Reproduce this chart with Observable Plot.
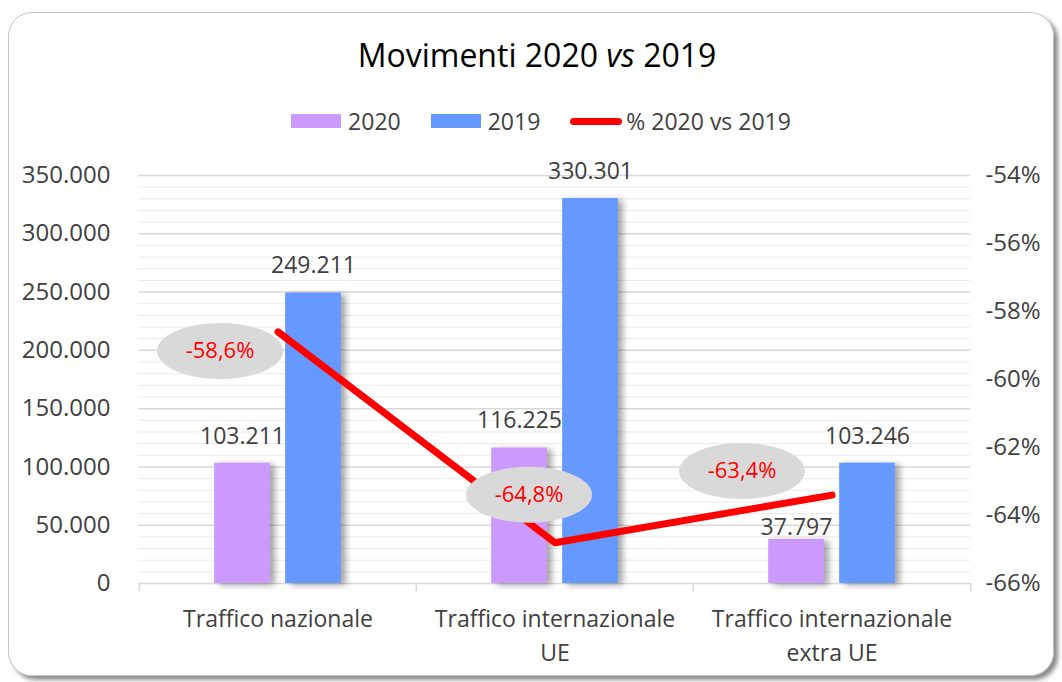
<!DOCTYPE html>
<html><head><meta charset="utf-8">
<script src="https://cdn.jsdelivr.net/npm/d3@7"></script>
<script src="https://cdn.jsdelivr.net/npm/@observablehq/plot@0.6"></script>
<style>
html,body{margin:0;padding:0;background:#fff;}
body{width:1062px;height:682px;position:relative;overflow:hidden;font-family:"Open Sans", sans-serif;color:#404040;}
#frame{position:absolute;left:8px;top:12px;width:1044px;height:662px;border:1.5px solid #c4c4c4;border-radius:24px;box-shadow:4px 4px 4px rgba(0,0,0,.45);}
#title{position:absolute;top:31px;left:0;width:1074px;text-align:center;font-size:32px;color:#000;line-height:48px;}
#legend{position:absolute;top:104px;left:0;width:1082px;display:flex;justify-content:center;align-items:center;font-size:23px;color:#404040;line-height:34px;}
.sw{display:inline-block;width:50px;height:14px;margin-right:7px;}
.item{display:flex;align-items:center;margin:0 15px;}
.ln{display:inline-block;width:52px;height:7px;border-radius:4px;background:#ff0000;margin-right:4px;}
#chart{position:absolute;left:0;top:150px;}
</style>
</head><body>
<div id="frame"></div>
<div id="title">Movimenti 2020 <i>vs</i> 2019</div>
<div id="legend"></div>
<div id="chart"></div>
<script>
const categories = ["Traffico nazionale", "Traffico internazionale\nUE", "Traffico internazionale\nextra UE"];
const v2020 = [103211, 116225, 37797];
const v2019 = [249211, 330301, 103246];
const pct = [-58.6, -64.8, -63.4];
const leftTicks = [0, 50000, 100000, 150000, 200000, 250000, 300000, 350000];
const rightTicks = [-66, -64, -62, -60, -58, -56, -54];
const seriesNames = ["2020", "2019", "% 2020 vs 2019"];
const colors = {c2020: "#cc99ff", c2019: "#6699ff", line: "#ff0000"};

const loc = d3.formatLocale({decimal: ",", thousands: ".", grouping: [3], currency: ["", "€"], minus: "-"});
const fmtInt = loc.format(",d");
const fmtPct1 = v => loc.format(".1f")(v) + "%";

// legend
const lg = document.getElementById("legend");
lg.innerHTML =
  `<span class="item"><span class="sw" style="background:${colors.c2020}"></span>${seriesNames[0]}</span>` +
  `<span class="item"><span class="sw" style="background:${colors.c2019}"></span>${seriesNames[1]}</span>` +
  `<span class="item"><span class="ln"></span>${seriesNames[2]}</span>`;

const W = 1062, H = 532;
const mL = 138, mR = 92, mT = 25, mB = 99;
const pMin = rightTicks[0], pMax = rightTicks[rightTicks.length - 1];
const yMax = leftTicks[leftTicks.length - 1];
const toY = p => (p - pMin) / (pMax - pMin) * yMax;
const fromY = v => pMin + v / yMax * (pMax - pMin);
const rows = categories.map((c, i) => ({cat: c, v2020: v2020[i], v2019: v2019[i], pct: pct[i], py: toY(pct[i])}));
const bw = (W - mL - mR) / categories.length;
const barW = 56, gap = 15;
const off = gap / 2 + barW / 2;

const ellipse = {
  draw(ctx) {
    const rx = 63, ry = 28, k = 0.5523;
    ctx.moveTo(rx, 0);
    ctx.bezierCurveTo(rx, ry * k, rx * k, ry, 0, ry);
    ctx.bezierCurveTo(-rx * k, ry, -rx, ry * k, -rx, 0);
    ctx.bezierCurveTo(-rx, -ry * k, -rx * k, -ry, 0, -ry);
    ctx.bezierCurveTo(rx * k, -ry, rx, -ry * k, rx, 0);
    ctx.closePath();
  }
};
const labelOffsets = [[-58, 19], [-26, -48], [-90, -24]];

const minor = d3.range(0, yMax + 1, 10000).filter(v => v % 50000 !== 0);
const major = leftTicks.filter(v => v > 0);

const chart = Plot.plot({
  width: W, height: H,
  marginLeft: mL, marginRight: mR, marginTop: mT, marginBottom: mB,
  style: {fontSize: "23px", fontFamily: "'Open Sans', sans-serif", color: "#404040", background: "transparent", overflow: "visible"},
  x: {domain: categories, padding: 0, axis: null},
  y: {domain: [0, yMax], axis: null},
  marks: [
    Plot.ruleY(minor, {stroke: "#ebebeb", strokeWidth: 1}),
    Plot.ruleY(major, {stroke: "#d9d9d9", strokeWidth: 1.5}),
    Plot.ruleY([0], {stroke: "#d9d9d9", strokeWidth: 1.5}),
    Plot.ruleX(rows, {x: "cat", y1: 0, y2: -7000, dx: -bw / 2, stroke: "#d9d9d9", strokeWidth: 1.5}),
    Plot.ruleX(rows.slice(-1), {x: "cat", y1: 0, y2: -7000, dx: bw / 2, stroke: "#d9d9d9", strokeWidth: 1.5}),
    Plot.axisY(leftTicks, {anchor: "left", tickFormat: fmtInt, tickSize: 0, tickPadding: 28, label: null, fill: "#404040", fontSize: 24}),
    Plot.axisY(rightTicks.map(toY), {anchor: "right", tickFormat: v => Math.round(fromY(v)) + "%", tickSize: 0, tickPadding: 15, label: null, fill: "#404040", fontSize: 24}),
    Plot.barY(rows, {x: "cat", y: "v2020", fill: colors.c2020, insetLeft: bw / 2 - gap / 2 - barW, insetRight: bw / 2 + gap / 2}),
    Plot.barY(rows, {x: "cat", y: "v2019", fill: colors.c2019, insetLeft: bw / 2 + gap / 2, insetRight: bw / 2 - gap / 2 - barW}),
    Plot.text(rows.filter(d => d.v2020 > 50000), {x: "cat", y: "v2020", text: d => fmtInt(d.v2020), dx: -off, dy: -27, fill: "#404040"}),
    Plot.text(rows.filter(d => d.v2020 <= 50000), {x: "cat", y: "v2020", text: d => fmtInt(d.v2020), dx: -off, dy: -12, fill: "#404040"}),
    Plot.text(rows, {x: "cat", y: "v2019", text: d => fmtInt(d.v2019), dx: off, dy: -27, fill: "#404040"}),
    Plot.line(rows, {x: "cat", y: "py", stroke: colors.line, strokeWidth: 7, strokeLinecap: "round", strokeLinejoin: "round"}),
    ...rows.map((r, i) => Plot.dot([r], {x: "cat", y: "py", symbol: ellipse, r: 10, fill: "#d9d9d9", stroke: null, dx: labelOffsets[i][0], dy: labelOffsets[i][1]})),
    ...rows.map((r, i) => Plot.text([r], {x: "cat", y: "py", text: d => fmtPct1(d.pct), fill: colors.line, fontSize: 22, dx: labelOffsets[i][0], dy: labelOffsets[i][1]})),
    Plot.text(rows, {x: "cat", frameAnchor: "bottom", text: "cat", lineAnchor: "top", dy: 19, lineHeight: 1.48, fill: "#404040"})
  ]
});
chart.querySelectorAll('g[aria-label="bar"]').forEach(g => g.style.filter = "drop-shadow(5px 2px 3px rgba(0,0,0,0.35))");
document.getElementById("chart").appendChild(chart);
</script>
</body></html>
